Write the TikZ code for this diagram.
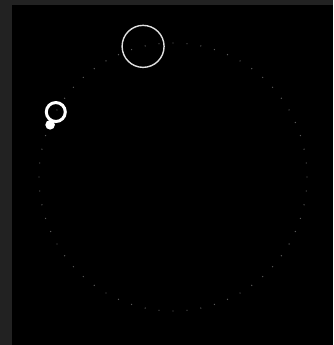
\documentclass[tikz,border=0pt]{standalone}
\usepackage{tikz}
\definecolor{marco}{HTML}{222222}
\definecolor{punto}{HTML}{5A5A5A}
\begin{document}
\begin{tikzpicture}[x=1pt,y=1pt]
            % Fondo
            \fill[marco] (0,0) rectangle (333,345);
            \fill[black] (12,0) rectangle (333,340);
            \useasboundingbox (0,0) rectangle (333,345);
            \coordinate (centro) at (173,168);

            % Orbita punteada
            \foreach \a in {0,6,...,354}
                \fill[punto] ([shift={(\a:134)}]centro) circle (0.7);

            % Circulo grande
            \draw[line width=1.4, white!88!black] ([shift={(102.9:134)}]centro) circle (21);

            % Anillo y punto
            \draw[line width=3, white] ([shift={(151:134)}]centro) circle (9.5);
            \fill[white] ([shift={(157:133.5)}]centro) circle (4.8);
        \end{tikzpicture}
\end{document}
